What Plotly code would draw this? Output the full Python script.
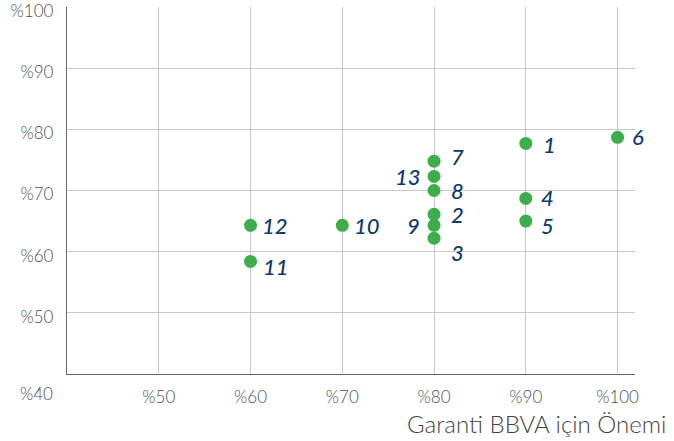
import plotly.graph_objects as go

# Data
labels = ["1", "2", "3", "4", "5", "6", "7", "8", "9", "10", "11", "12", "13"]
x_vals = [90, 80, 80, 90, 90, 100, 80, 80, 80, 70, 60, 60, 80]
y_vals = [77.7, 66.1, 62.2, 68.7, 65.0, 78.7, 74.8, 70.0, 64.3, 64.3, 58.4, 64.3, 72.3]
x_ticks = [50, 60, 70, 80, 90, 100]
y_ticks = [50, 60, 70, 80, 90, 100]
x_title = "Garanti BBVA için Önemi"

# label offsets (pixels) – styling only
offsets = {
    "1": (15, -1, "left"), "2": (15, 0, "left"), "3": (15, -14, "left"),
    "4": (13, 1, "left"), "5": (13, -4, "left"), "6": (12, 1, "left"),
    "7": (15, 5, "left"), "8": (15, 0, "left"), "9": (-12, 0, "right"),
    "10": (10, 0, "left"), "11": (10, -5, "left"), "12": (9, 0, "left"),
    "13": (-11, 0, "right"),
}

fig = go.Figure()
fig.add_trace(go.Scatter(
    x=x_vals, y=y_vals, mode="markers",
    marker=dict(size=13, color="#3dae4b"),
    hoverinfo="skip", showlegend=False,
))

annotations = []
for lab, xv, yv in zip(labels, x_vals, y_vals):
    dx, dy, anchor = offsets[lab]
    annotations.append(dict(
        x=xv, y=yv, xref="x", yref="y", text=lab, showarrow=False,
        xshift=dx, yshift=dy, xanchor=anchor, yanchor="middle",
        font=dict(family="Lato", size=22, color="#0d3a6b", style="italic", weight=500),
    ))

annotations.append(dict(
    x=1.058, y=-0.135, xref="paper", yref="paper", text=x_title,
    showarrow=False, xanchor="right", yanchor="middle",
    font=dict(family="Lato", size=24, color="#444444", weight=300),
))
annotations.append(dict(
    x=-0.021, y=-0.052, xref="paper", yref="paper", text="%40",
    showarrow=False, xanchor="right", yanchor="middle",
    font=dict(family="Lato", size=17, color="#4f4f4f", weight=300),
))

fig.update_layout(
    width=674, height=441,
    margin=dict(l=67, r=39, t=7, b=67, autoexpand=False),
    plot_bgcolor="white", paper_bgcolor="white",
    annotations=annotations,
    font=dict(family="Lato", size=17, color="#4f4f4f", weight=300),
)
fig.update_xaxes(
    range=[40, 101.9], tickvals=x_ticks, ticktext=["%" + str(v) for v in x_ticks],
    showgrid=True, gridcolor="#c8c8c8", gridwidth=1.3,
    showline=True, linecolor="#666666", linewidth=1.3,
    zeroline=False, ticks="", ticklabelstandoff=7, automargin=False,
)
fig.update_yaxes(
    range=[40, 100.001], tickvals=y_ticks, ticktext=["%" + str(v) for v in y_ticks],
    showgrid=True, gridcolor="#c8c8c8", gridwidth=1.3,
    showline=True, linecolor="#666666", linewidth=1.3,
    zeroline=False, ticks="", ticklabelstandoff=9, automargin=False,
    ticklabeloverflow="allow", ticklabelshift=4,
)

fig.write_html("out.html", config={"displayModeBar": False},
               post_script="document.body.style.margin='0';")
